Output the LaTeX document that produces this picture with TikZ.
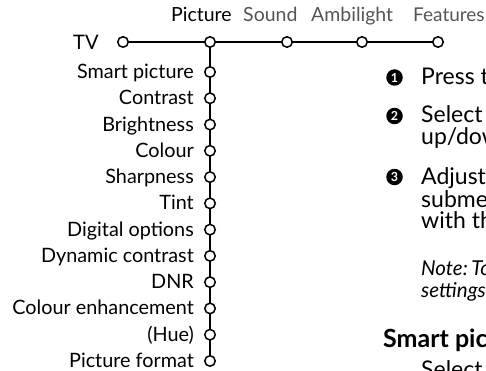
\documentclass[tikz,border=0pt]{standalone}
\usepackage{fontspec}
\setmainfont{Lato}
\definecolor{tabgray}{HTML}{555555}
\begin{document}
\begin{tikzpicture}[x=1pt,y=-1pt,
  dot/.style={circle,draw=black,fill=white,line width=1.5pt,minimum size=10.5pt,inner sep=0pt},
  conn/.style={line width=1.5pt},
  lbl/.style={anchor=base east,inner sep=0pt,font=\fontsize{19.8}{23}\selectfont},
  tab/.style={anchor=base west,inner sep=0pt,font=\fontsize{19.5}{23}\selectfont},
  body/.style={anchor=base west,inner sep=0pt,font=\fontsize{23}{26}\selectfont},
  num/.style={circle,fill=black,text=white,minimum size=16.5pt,inner sep=0pt,font=\fontsize{12.5}{12.5}\selectfont\bfseries}]
\useasboundingbox (0,0) rectangle (486,371);
\clip (0,0) rectangle (486,371);
% top menu tabs
\node[tab] (tPicture) at (171,22) {Picture};
\node[tab,text=tabgray] (tSound) at (243,22) {Sound};
\node[tab,text=tabgray] (tAmbi) at (311,22) {Ambilight};
\node[tab,text=tabgray,font=\fontsize{19}{23}\selectfont] (tFeat) at (413,22) {Features};
\node[anchor=base west,inner sep=0pt,font=\fontsize{20}{24}\selectfont] (tv) at (73,50) {TV};
% horizontal row
\coordinate (ctv) at (123,42);
\coordinate (cpic) at (210,42);
\coordinate (csnd) at (287,42);
\coordinate (camb) at (362,42);
\coordinate (cfeat) at (438,42);
\draw[conn] (ctv) -- (cfeat);
% vertical column
\foreach \i/\t in {1/Smart picture,2/Contrast,3/Brightness,4/Colour,5/Sharpness,6/Tint,7/Digital options,8/Dynamic contrast,9/DNR,10/Colour enhancement,11/(Hue),12/Picture format}{
  \coordinate (m\i) at (210,{72+(\i-1)*26.27});
  \node[lbl] (l\i) at (194,{72+(\i-1)*26.27+6.5}) {\t};
}
\draw[conn] (cpic) -- (m12);
\foreach \c in {ctv,cpic,csnd,camb,cfeat,m1,m2,m3,m4,m5,m6,m7,m8,m9,m10,m11,m12}
  \node[dot] (d\c) at (\c) {};
% right text
\node[num] (n1) at (394.5,77.5) {1};
\node[num] (n2) at (394.5,116) {2};
\node[num] (n3) at (394.5,177) {3};
\node[body] (p1) at (421,85) {Press the};
\node[body] (p2) at (421,123) {Select the};
\node[body] (p2b) at (421,145) {up/down};
\node[body] (p3) at (421,185) {Adjust the};
\node[body] (p3b) at (421,207) {submenu};
\node[body] (p3c) at (421,228) {with the};
\node[body,font=\fontsize{20.5}{24}\selectfont\itshape] (note1) at (421,275) {Note:\,To};
\node[body,font=\fontsize{20.5}{24}\selectfont\itshape] (note2) at (421,297) {settings};
\node[anchor=base west,inner sep=0pt,font=\fontsize{25}{28}\selectfont\bfseries] (sp) at (383,347) {Smart picture};
\node[body] (sel) at (421,377) {Select};
\end{tikzpicture}
\end{document}
